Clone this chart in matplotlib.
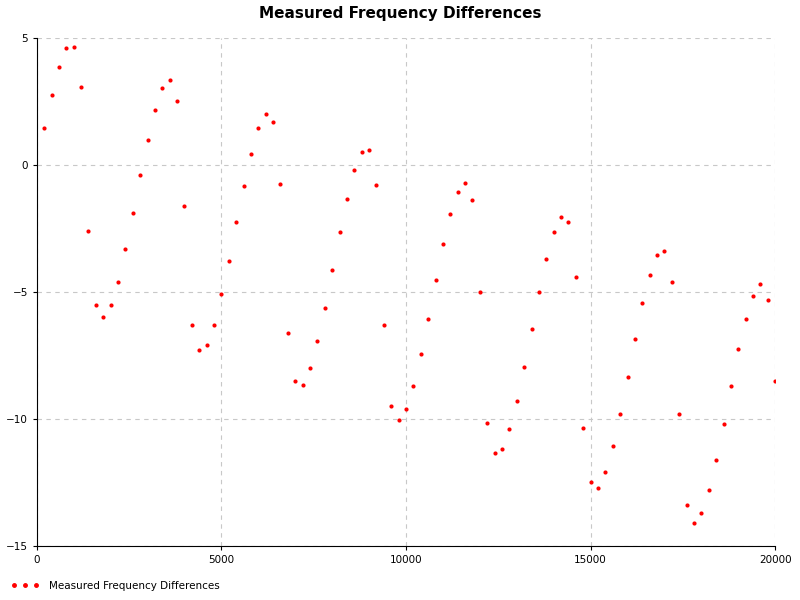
import numpy as np
import matplotlib.pyplot as plt
from matplotlib.lines import Line2D

x_vals = np.arange(200, 20001, 200)
y_vals = [1.45, 2.75, 3.85, 4.6, 4.65, 3.07, -2.6, -5.5, -6.0, -5.5,
          -4.6, -3.3, -1.9, -0.4, 0.98, 2.15, 3.03, 3.35, 2.5, -1.6,
          -6.3, -7.3, -7.1, -6.3, -5.1, -3.8, -2.25, -0.85, 0.42, 1.45,
          2.0, 1.7, -0.75, -6.6, -8.5, -8.65, -8.0, -6.95, -5.65, -4.15,
          -2.65, -1.35, -0.2, 0.5, 0.58, -0.8, -6.3, -9.5, -10.05, -9.6,
          -8.7, -7.45, -6.05, -4.55, -3.1, -1.95, -1.05, -0.7, -1.4, -5.0,
          -10.15, -11.35, -11.2, -10.4, -9.3, -7.95, -6.45, -5.0, -3.7, -2.65,
          -2.05, -2.25, -4.4, -10.35, -12.5, -12.7, -12.1, -11.05, -9.8, -8.35,
          -6.85, -5.45, -4.35, -3.55, -3.4, -4.6, -9.8, -13.4, -14.1, -13.7,
          -12.8, -11.6, -10.2, -8.7, -7.25, -6.05, -5.15, -4.7, -5.3, -8.5]
series_name = "Measured Frequency Differences"

fig = plt.figure(figsize=(8, 6), dpi=100)
ax = fig.add_axes([0.046, 0.09, 0.923, 0.847])
ax.scatter(x_vals, y_vals, s=9, color='red', zorder=3, linewidths=0)
ax.set_xlim(0, 20000)
ax.set_ylim(-15, 5)
ax.set_xticks([0, 5000, 10000, 15000, 20000])
ax.set_yticks([5, 0, -5, -10, -15])
ax.grid(True, color='#c8c8c8', linestyle=(0, (4, 4)), linewidth=0.8)
for s in ['top', 'right']:
    ax.spines[s].set_visible(False)
ax.tick_params(labelsize=7.5, length=3)
fig.suptitle(series_name, fontsize=11, fontweight='bold', y=0.99)

handle = Line2D([0], [0], color='red', linestyle=(0, (1, 3)), marker='o',
                markersize=2.5, markevery=[0, 1, 2] , linewidth=0)
h2 = Line2D([], [], color='red', marker='.', linestyle='none', markersize=5)
fig.legend([(h2, h2, h2)], [series_name], loc='lower left',
           bbox_to_anchor=(0.0, 0.0), frameon=False, fontsize=7.5,
           handler_map={tuple: __import__('matplotlib.legend_handler', fromlist=['x']).HandlerTuple(ndivide=None, pad=0.3)},
           handlelength=3)
fig.savefig('out.png')
